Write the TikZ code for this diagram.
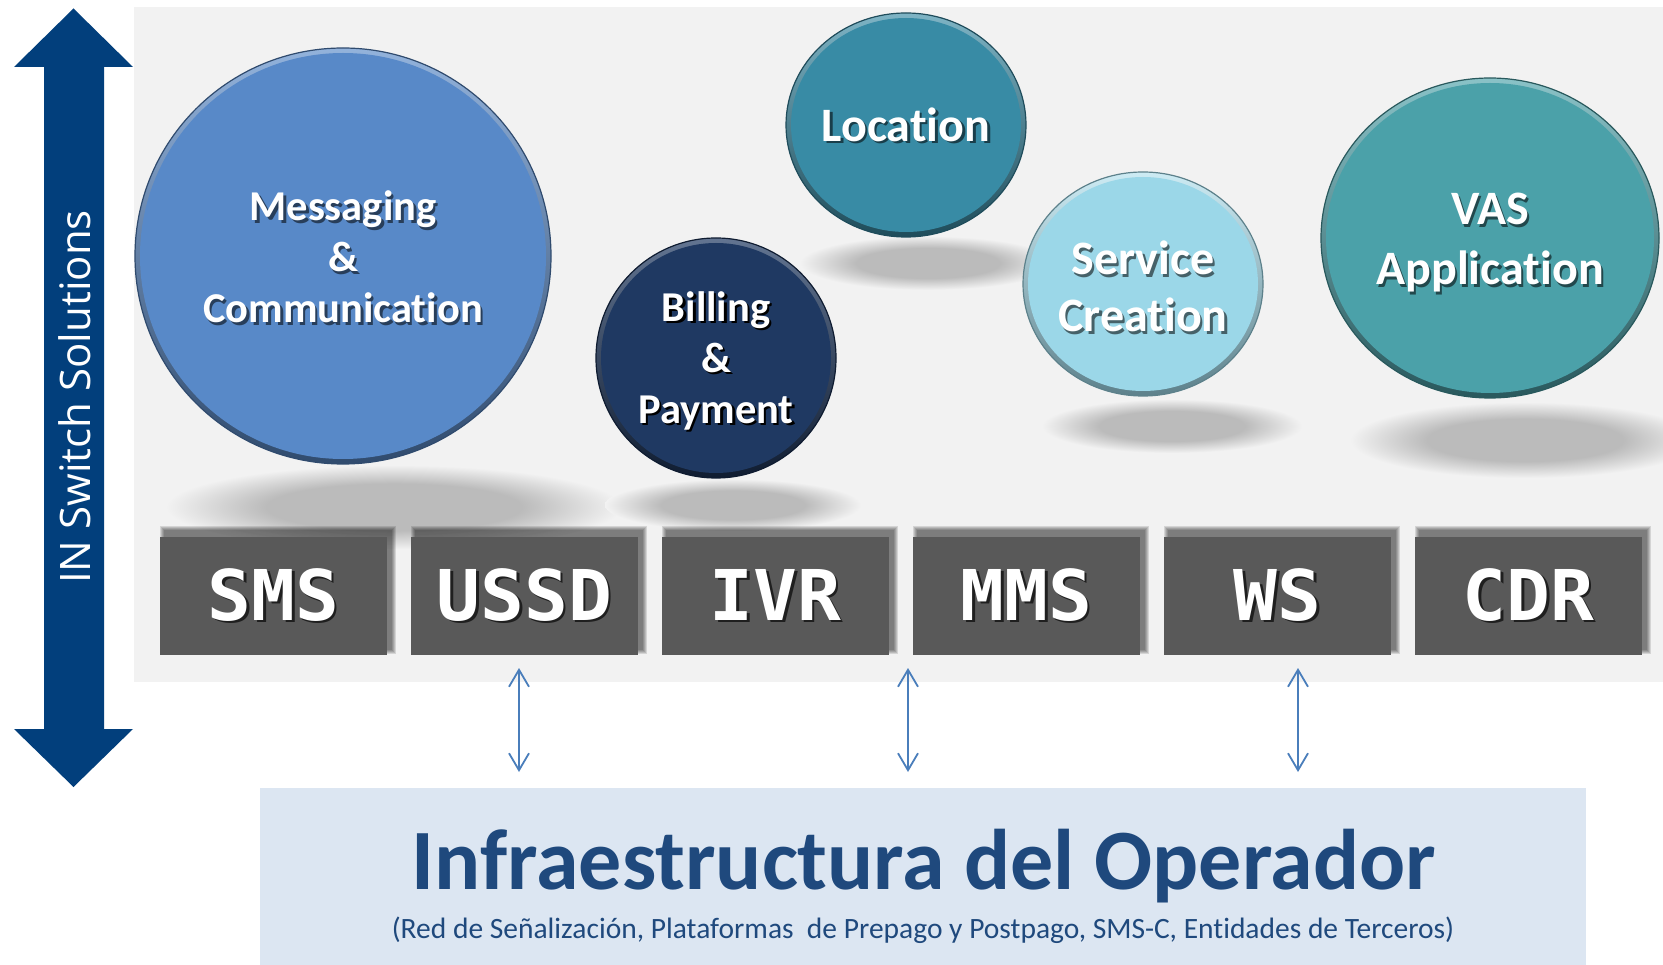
\documentclass[tikz,border=0pt]{standalone}
\usepackage{fontspec}
\setmainfont{Carlito}[Ligatures={NoCommon,NoContextual}]
\newfontfamily\labelfont{Open Sans}
\newfontfamily\monofont[FakeStretch=1.04]{DejaVu Sans Mono}
\usetikzlibrary{arrows.meta,calc,shapes.geometric}

\definecolor{panel}{HTML}{F2F2F2}
\definecolor{axisblue}{HTML}{023F7C}
\definecolor{boxgray}{HTML}{595959}
\definecolor{infrabg}{HTML}{DCE6F2}
\definecolor{infratext}{HTML}{1F497D}
\definecolor{linkblue}{HTML}{4A7EBB}
\definecolor{floorgray}{HTML}{BBBBBB}
\definecolor{msgc}{HTML}{5889C8}
\definecolor{billc}{HTML}{1F3962}
\definecolor{locc}{HTML}{388BA5}
\definecolor{svcc}{HTML}{9BD7E8}
\definecolor{vasc}{HTML}{4BA1A9}

% soft elliptical shadow on the floor under each bubble
\pgfdeclareradialshading{floorshadow}{\pgfpointorigin}{%
  color(0bp)=(floorgray); color(14bp)=(floorgray);
  color(25bp)=(panel); color(50bp)=(panel)}

% white text with a dark drop shadow
\newcommand\shadowed[2]{\leavevmode\rlap{\kern2.5pt\raisebox{-2.5pt}{\textcolor{#1}{#2}}}#2}

\tikzset{
  bubble/.style n args={5}{ellipse, inner sep=0pt, fill=#1, draw=#3, line width=1.2pt,
    minimum width=2*#4, minimum height=2*#5,
    path picture={
      \shade[top color=#2, bottom color=#3]
        (path picture bounding box.north west) rectangle (path picture bounding box.south east);
      \fill[#1] (path picture bounding box.center) ellipse [x radius=#4-5pt, y radius=#5-5pt];
    }},
  bubbletext/.style={text=white, align=center, inner sep=0pt},
  bigtext/.style={bubbletext, font=\bfseries\fontsize{48}{57}\selectfont},
  midtext/.style={bubbletext, font=\bfseries\fontsize{42.5}{51}\selectfont},
  svcbox/.style={fill=boxgray, minimum width=227pt, minimum height=118pt, inner sep=0pt,
    text=white, font=\monofont\bfseries\fontsize{70}{70}\selectfont},
  link/.style={draw=linkblue, line width=1.8pt,
    {Straight Barb[length=17pt,width=20pt]}-{Straight Barb[length=17pt,width=20pt]}},
}

\begin{document}
\begin{tikzpicture}[x=1pt,y=-1pt]
\useasboundingbox (0,0) rectangle (1663,965);
\fill[white] (0,0) rectangle (1663,965);
\fill[panel] (134,7) rectangle (1663,682);

% vertical double arrow
\fill[axisblue] (73.5,8.5) -- (133,67) -- (104,67) -- (104,729) -- (133,729)
  -- (73.5,787) -- (14,729) -- (44,729) -- (44,67) -- (14,67) -- cycle;
\node[rotate=90, anchor=base, text=white, font=\labelfont\fontsize{42}{42}\selectfont]
  (insol) at (90,397) {IN Switch Solutions};

% floor shadows
\shade[shading=floorshadow] (394,507) ellipse [x radius=228pt, y radius=42pt];
\shade[shading=floorshadow] (733,505) ellipse [x radius=128pt, y radius=26pt];
\shade[shading=floorshadow] (928,263) ellipse [x radius=128pt, y radius=27pt];
\shade[shading=floorshadow] (1172,426) ellipse [x radius=130pt, y radius=27pt];
\shade[shading=floorshadow] (1525,440) ellipse [x radius=175pt, y radius=38pt];

% bubbles
\node[bubble={msgc}{msgc!65!white}{msgc!55!black}{208pt}{208pt}] (msg) at (343,256) {};
\node[bubble={billc}{billc!70!white}{billc!50!black}{120pt}{120pt}] (bill) at (716,358) {};
\node[bubble={locc}{locc!65!white}{locc!55!black}{120pt}{112pt}] (loc) at (906,125) {};
\node[bubble={svcc}{svcc!50!white}{svcc!60!black}{120pt}{112pt}] (svc) at (1143,284) {};
\node[bubble={vasc}{vasc!65!white}{vasc!55!black}{169pt}{160pt}] (vas) at (1490,238) {};

\node[midtext] (msgtext) at (343,258)
  {\shadowed{msgc!45!black}{Messaging}\\ \shadowed{msgc!45!black}{\&}\\ \shadowed{msgc!45!black}{Communication}};
\node[midtext] (billtext) at (716,362)
  {\shadowed{black}{Billing}\\ \shadowed{black}{\&}\\ \shadowed{black}{Payment}};
\node[bigtext] (loctext) at (906,126) {\shadowed{locc!45!black}{Location}};
\node[bigtext] (svctext) at (1143,288)
  {\shadowed{svcc!45!black}{Service}\\ \shadowed{svcc!45!black}{Creation}};
\node[bigtext, font=\bfseries\fontsize{48}{60}\selectfont] (vastext) at (1490,244)
  {\shadowed{vasc!45!black}{VAS}\\ \shadowed{vasc!45!black}{Application}};

% soft shadows behind the service boxes
\foreach \i in {0,...,5}{
  \foreach \k in {1,...,5}{
    \fill[black, opacity=0.12]
      ({160+251*\i+5-\k},{531-\k}) rectangle ({160+251*\i+227+4+\k},{649+\k});
  }
}

% service boxes
\node[svcbox] (sms)  at (273.5,596)  {\shadowed{boxgray!35!black}{SMS}};
\node[svcbox] (ussd) at (524.5,596)  {\shadowed{boxgray!35!black}{USSD}};
\node[svcbox] (ivr)  at (775.5,596)  {\shadowed{boxgray!35!black}{IVR}};
\node[svcbox] (mms)  at (1026.5,596) {\shadowed{boxgray!35!black}{MMS}};
\node[svcbox] (ws)   at (1277.5,596) {\shadowed{boxgray!35!black}{WS}};
\node[svcbox] (cdr)  at (1528.5,596) {\shadowed{boxgray!35!black}{CDR}};

% operator infrastructure
\node[fill=infrabg, minimum width=1326pt, minimum height=177pt, inner sep=0pt,
  anchor=north west] (infra) at (260,788) {};
\node[anchor=base, text=infratext, font=\bfseries\fontsize{86}{86}\selectfont, inner sep=0pt]
  (infratitle) at (924,889) {Infraestructura del Operador};
\node[anchor=base, text=infratext, font=\fontsize{29.5}{29.5}\selectfont, inner sep=0pt]
  (infrasub) at (923,938)
  {(Red de Señalización, Plataformas\ \ de Prepago y Postpago, SMS-C, Entidades de Terceros)};

% links between the boxes and the infrastructure
\coordinate (l1a) at (519,668);  \coordinate (l1b) at (519,772);
\coordinate (l2a) at (908,668);  \coordinate (l2b) at (908,772);
\coordinate (l3a) at (1298,668); \coordinate (l3b) at (1298,772);
\draw[link] (l1a) -- (l1b);
\draw[link] (l2a) -- (l2b);
\draw[link] (l3a) -- (l3b);
\end{tikzpicture}
\end{document}
